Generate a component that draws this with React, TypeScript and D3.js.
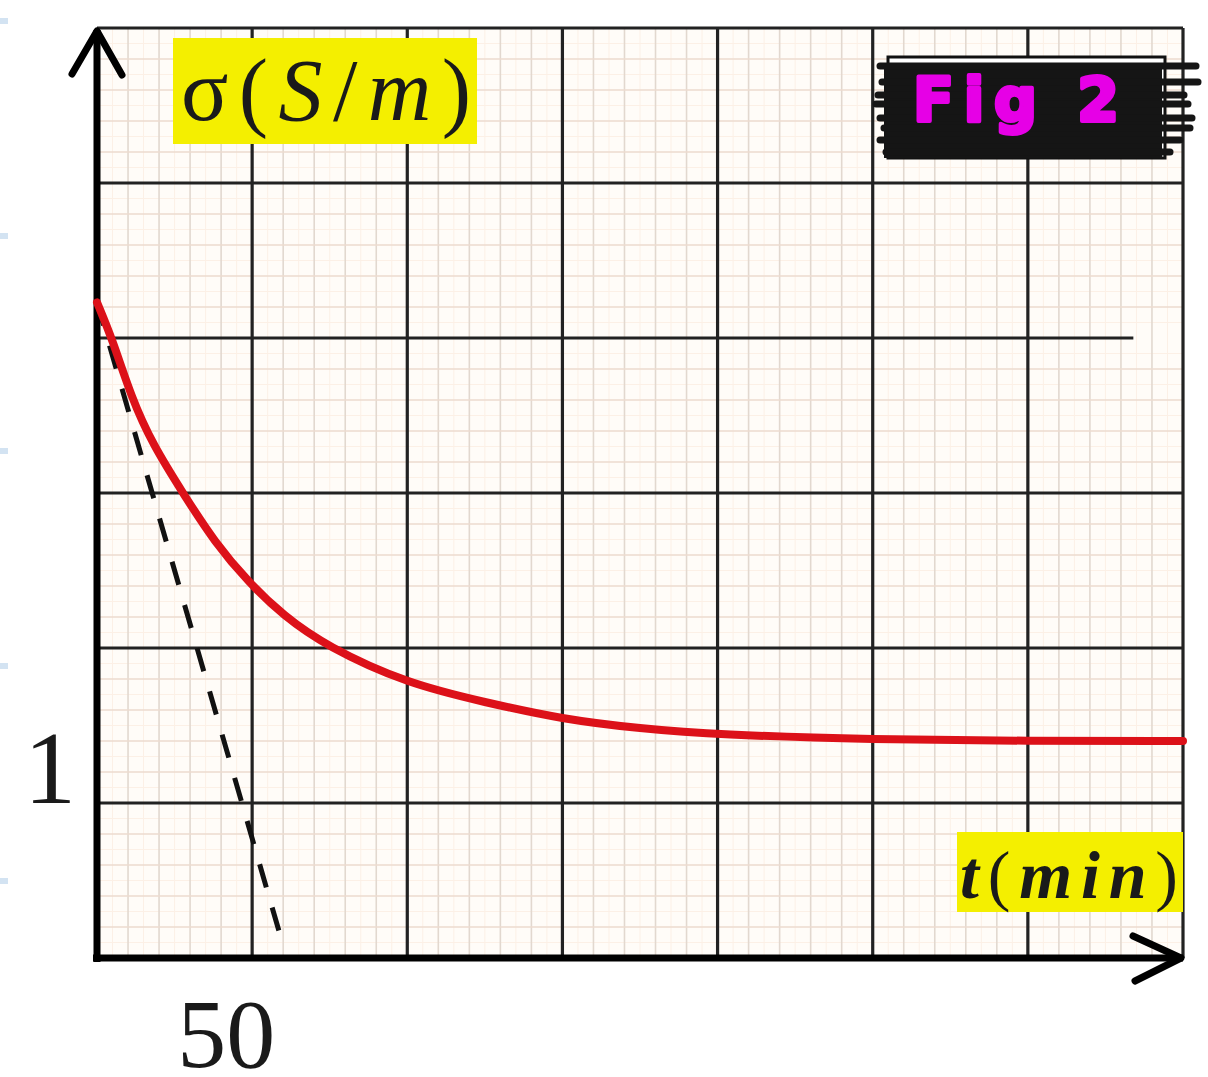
import React, { useEffect, useRef } from "react";
import { select, scaleLinear, range, line, curveBasis } from "d3";

// data (t in min, sigma in S/m)
const curveT = [0, 0, 5, 11, 18, 28, 38, 49, 60, 74, 100, 125, 150, 175, 200, 250, 300, 350, 350];
const curveSigma = [4.23, 4.23, 3.99, 3.62, 3.31, 2.99, 2.68, 2.42, 2.21, 2.01, 1.77, 1.65, 1.54, 1.48, 1.44, 1.41, 1.4, 1.4, 1.4];
const tangentT = [0, 60];
const tangentSigma = [4.23, 0.08];
const xTickValues = [50];
const xTickLabels = ["50"];
const yTickValues = [1];
const yTickLabels = ["1"];
const shortLineSigma = 4;
const shortLineEnd = 334;

const W = 1208;
const H = 1077;

function App() {
  const svgRef = useRef(null);

  useEffect(() => {
    const svg = select(svgRef.current);
    svg.selectAll("*").remove();

    const x = scaleLinear().domain([0, 350]).range([97, 1183]);
    const y = scaleLinear().domain([0, 6]).range([958, 28]);

    svg.append("rect").attr("width", W).attr("height", H).attr("fill", "#fff");

    // light blue marks on the left edge of the scan
    [21, 236, 451, 666, 881].forEach((yy) => {
      svg.append("rect").attr("x", 0).attr("y", yy - 3).attr("width", 8).attr("height", 6).attr("fill", "#d3e3f2");
    });

    // paper tint
    svg
      .append("rect")
      .attr("x", x(0))
      .attr("y", y(6))
      .attr("width", x(350) - x(0))
      .attr("height", y(0) - y(6))
      .attr("fill", "#fffcf8");

    const grid = svg.append("g");
    // sub-minor lines
    grid
      .selectAll(".sx")
      .data(range(0, 351, 5).filter((d) => d % 10 !== 0))
      .join("line")
      .attr("x1", (d) => x(d)).attr("x2", (d) => x(d))
      .attr("y1", y(0)).attr("y2", y(6))
      .attr("stroke", "#fcf0e6").attr("stroke-width", 1);
    grid
      .selectAll(".sy")
      .data(range(1, 60, 2).map((d) => d / 10))
      .join("line")
      .attr("y1", (d) => y(d)).attr("y2", (d) => y(d))
      .attr("x1", x(0)).attr("x2", x(350))
      .attr("stroke", "#fcf0e6").attr("stroke-width", 1);

    // minor lines
    grid
      .selectAll(".mx")
      .data(range(0, 351, 10).filter((d) => d % 50 !== 0))
      .join("line")
      .attr("x1", (d) => x(d)).attr("x2", (d) => x(d))
      .attr("y1", y(0)).attr("y2", y(6))
      .attr("stroke", "#e2d8cf").attr("stroke-width", 1.6);
    grid
      .selectAll(".my")
      .data(range(0, 31).filter((d) => d % 5 !== 0).map((d) => d / 5))
      .join("line")
      .attr("y1", (d) => y(d)).attr("y2", (d) => y(d))
      .attr("x1", x(0)).attr("x2", x(350))
      .attr("stroke", "#ecdbcf").attr("stroke-width", 1.6);

    // major lines
    grid
      .selectAll(".Mx")
      .data(range(50, 351, 50))
      .join("line")
      .attr("x1", (d) => x(d)).attr("x2", (d) => x(d))
      .attr("y1", y(0)).attr("y2", y(6))
      .attr("stroke", "#222").attr("stroke-width", 3.2);
    grid
      .selectAll(".My")
      .data(range(1, 7))
      .join("line")
      .attr("y1", (d) => y(d)).attr("y2", (d) => y(d))
      .attr("x1", x(0))
      .attr("x2", (d) => (d === shortLineSigma ? x(shortLineEnd) : x(350)))
      .attr("stroke", "#222").attr("stroke-width", 3.2);

    // axes
    svg.append("line")
      .attr("x1", x(0)).attr("x2", x(0)).attr("y1", 30).attr("y2", y(0) + 4)
      .attr("stroke", "#000").attr("stroke-width", 7);
    svg.append("line")
      .attr("x1", x(0) - 4).attr("x2", x(350)).attr("y1", y(0)).attr("y2", y(0))
      .attr("stroke", "#000").attr("stroke-width", 7);
    svg.append("path")
      .attr("d", `M${x(0) - 25},74 L${x(0)},31 L${x(0) + 25},75`)
      .attr("fill", "none").attr("stroke", "#000").attr("stroke-width", 7)
      .attr("stroke-linecap", "round").attr("stroke-linejoin", "round");
    svg.append("path")
      .attr("d", `M${x(350) - 50},936 L${x(350) - 2},${y(0)} L${x(350) - 48},981`)
      .attr("fill", "none").attr("stroke", "#000").attr("stroke-width", 7)
      .attr("stroke-linecap", "round").attr("stroke-linejoin", "round");

    // tangent (dashed)
    const tangent = tangentT.map((t, i) => [t, tangentSigma[i]]);
    svg.append("path")
      .attr("d", line().x((d) => x(d[0])).y((d) => y(d[1]))(tangent))
      .attr("fill", "none").attr("stroke", "#111").attr("stroke-width", 5)
      .attr("stroke-dasharray", "24 21");

    // conductivity curve
    const pts = curveT.map((t, i) => [t, curveSigma[i]]);
    svg.append("path")
      .attr("d", line().x((d) => x(d[0])).y((d) => y(d[1])).curve(curveBasis)(pts))
      .attr("fill", "none").attr("stroke", "#dc1119").attr("stroke-width", 8)
      .attr("stroke-linecap", "round");

    // tick labels
    xTickValues.forEach((v, i) => {
      svg.append("text")
        .attr("x", x(v) - 26).attr("y", 1067)
        .attr("text-anchor", "middle")
        .attr("font-family", "Liberation Serif, serif").attr("font-size", 98)
        .attr("fill", "#1a1a1a")
        .text(xTickLabels[i]);
    });
    yTickValues.forEach((v, i) => {
      svg.append("text")
        .attr("x", 50).attr("y", y(v))
        .attr("text-anchor", "middle")
        .attr("font-family", "Liberation Serif, serif").attr("font-size", 104)
        .attr("fill", "#1a1a1a")
        .text(yTickLabels[i]);
    });

    // y title
    svg.append("rect").attr("x", 173).attr("y", 38).attr("width", 304).attr("height", 106).attr("fill", "#f4ef00");
    const yt = svg.append("text")
      .attr("x", 181).attr("y", 120)
      .attr("font-family", "Liberation Serif, serif").attr("font-size", 88)
      .attr("fill", "#1a1a1a")
      .attr("textLength", 290).attr("lengthAdjust", "spacing");
    yt.append("tspan").text("σ(");
    yt.append("tspan").attr("font-style", "italic").text("S");
    yt.append("tspan").text("/");
    yt.append("tspan").attr("font-style", "italic").text("m");
    yt.append("tspan").text(")");

    // x title
    svg.append("rect").attr("x", 957).attr("y", 832).attr("width", 226).attr("height", 80).attr("fill", "#f4ef00");
    const xt = svg.append("text")
      .attr("x", 960).attr("y", 898)
      .attr("font-family", "Liberation Serif, serif").attr("font-size", 68)
      .attr("fill", "#1a1a1a")
      .attr("textLength", 218).attr("lengthAdjust", "spacing");
    xt.append("tspan").attr("font-style", "italic").attr("font-weight", "bold").text("t");
    xt.append("tspan").text("(");
    xt.append("tspan").attr("font-style", "italic").attr("font-weight", "bold").text("min");
    xt.append("tspan").text(")");

    // blacked-out figure tag
    svg.append("rect").attr("x", 888).attr("y", 57).attr("width", 277).attr("height", 101)
      .attr("fill", "#fff").attr("stroke", "#111").attr("stroke-width", 3);
    svg.append("rect").attr("x", 884).attr("y", 64).attr("width", 278).attr("height", 94).attr("fill", "#151515");
    [
      [880, 66, 1196], [882, 82, 1198], [878, 95, 1184], [876, 104, 1188],
      [880, 118, 1192], [884, 128, 1190], [880, 140, 1180], [886, 152, 1170],
    ].forEach(([x1, yy, x2]) => {
      svg.append("line").attr("x1", x1).attr("x2", x2).attr("y1", yy).attr("y2", yy)
        .attr("stroke", "#151515").attr("stroke-width", 7).attr("stroke-linecap", "round");
    });
    svg.append("text")
      .attr("x", 913).attr("y", 121)
      .attr("font-family", "DejaVu Sans, sans-serif").attr("font-weight", "bold").attr("font-size", 60)
      .attr("fill", "#e600e6").attr("stroke", "#e600e6").attr("stroke-width", 4)
      .attr("stroke-linejoin", "round")
      .attr("textLength", 206).attr("lengthAdjust", "spacing")
      .text("Fig 2");
  }, []);

  return (
    <svg
      ref={svgRef}
      width={W}
      height={H}
      style={{ position: "absolute", left: 0, top: 0, display: "block" }}
    />
  );
}

export default App;
